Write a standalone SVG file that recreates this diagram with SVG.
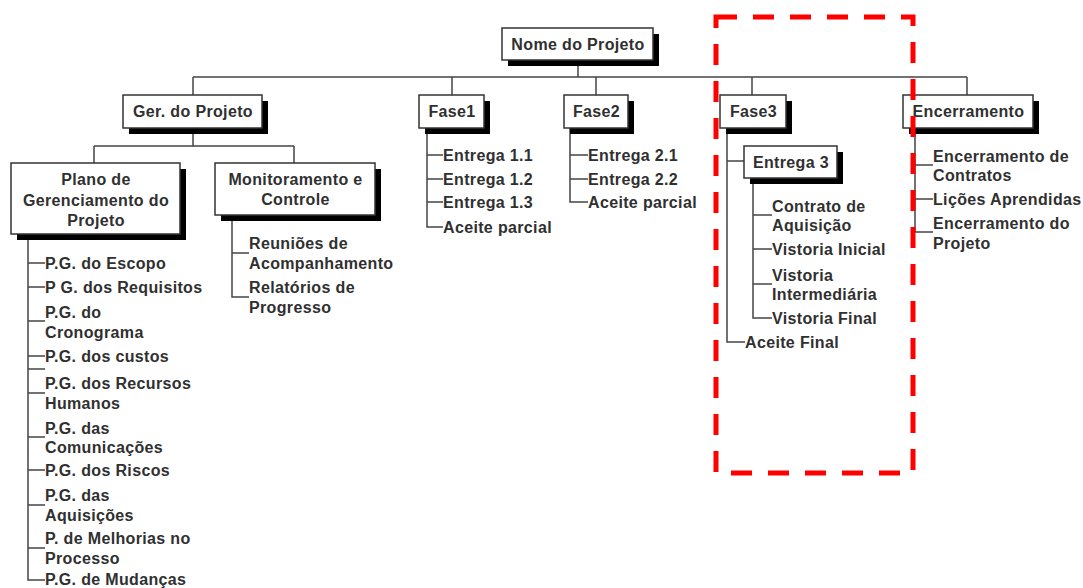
<svg xmlns="http://www.w3.org/2000/svg" width="1083" height="588" viewBox="0 0 1083 588">
<style>
.sh{fill:#000}
.bx{fill:#fff;stroke:#333;stroke-width:1.5}
.t{font-family:"Liberation Sans",Arial,sans-serif;font-size:16px;font-weight:bold;fill:#303030;letter-spacing:0.35px}
.c{text-anchor:middle}
.ln{fill:none;stroke:#444;stroke-width:1.5}
</style>
<rect width="1083" height="588" fill="#fff"/>
<g id="connectors" class="ln">
<path d="M578 60V77M193 77H967M193 77V95M452 77V95M596 77V95M752 77V95M967 77V95"/>
<path d="M193 128V146M94 146H294M94 146V163M294 146V163"/>
<path d="M28 234V580H45M28 263H45M28 287H45M28 321H45M28 356H45M28 369H45M28 393H45M28 437H45M28 470H45M28 505H45M28 548H45"/>
<path d="M232 215V297H249M232 253H249"/>
<path d="M427 128V227H443M427 155H443M427 179H443M427 202H443"/>
<path d="M570 128V202H588M570 155H588M570 179H588"/>
<path d="M727 128V342H745M727 161H744"/>
<path d="M753 178V318H772M753 215H772M753 249H772M753 284H772"/>
<path d="M915 128V232H933M915 165H933M915 199H933"/>
</g>
<g id="n-nome"><rect class="sh" x="508" y="34" width="151" height="32"/><rect class="bx" x="502" y="28" width="151" height="32"/><text class="t c" x="578" y="50">Nome do Projeto</text></g>
<g id="n-ger"><rect class="sh" x="129" y="101" width="139" height="33"/><rect class="bx" x="123" y="95" width="139" height="33"/><text class="t c" x="193" y="117">Ger. do Projeto</text></g>
<g id="n-fase1"><rect class="sh" x="425" y="101" width="65" height="33"/><rect class="bx" x="419" y="95" width="65" height="33"/><text class="t c" x="452" y="117">Fase1</text></g>
<g id="n-fase2"><rect class="sh" x="570" y="101" width="64" height="33"/><rect class="bx" x="564" y="95" width="64" height="33"/><text class="t c" x="596.5" y="117">Fase2</text></g>
<g id="n-fase3"><rect class="sh" x="726" y="101" width="66" height="33"/><rect class="bx" x="720" y="95" width="66" height="33"/><text class="t c" x="753.5" y="117">Fase3</text></g>
<g id="n-encerramento"><rect class="sh" x="909" y="101" width="130" height="33"/><rect class="bx" x="903" y="95" width="130" height="33"/><text class="t c" x="968.5" y="117">Encerramento</text></g>
<g id="n-plano"><rect class="sh" x="17" y="169" width="169" height="71"/><rect class="bx" x="11" y="163" width="169" height="71"/><text class="t c" x="96" y="185">Plano de</text><text class="t c" x="96" y="206">Gerenciamento do</text><text class="t c" x="96" y="226">Projeto</text></g>
<g id="n-monit"><rect class="sh" x="221" y="169" width="160" height="52"/><rect class="bx" x="215" y="163" width="160" height="52"/><text class="t c" x="295.5" y="185">Monitoramento e</text><text class="t c" x="295.5" y="205">Controle</text></g>
<g id="n-entrega3"><rect class="sh" x="750" y="152" width="93" height="32"/><rect class="bx" x="744" y="146" width="93" height="32"/><text class="t c" x="791" y="168">Entrega 3</text></g>
<g id="l-plano" class="t">
<text x="45" y="269">P.G. do Escopo</text>
<text x="45" y="293">P G. dos Requisitos</text>
<text x="45" y="318">P.G. do</text><text x="45" y="338">Cronograma</text>
<text x="45" y="362">P.G. dos custos</text>
<text x="45" y="389">P.G. dos Recursos</text><text x="45" y="409">Humanos</text>
<text x="45" y="434">P.G. das</text><text x="45" y="453">Comunicações</text>
<text x="45" y="476">P.G. dos Riscos</text>
<text x="45" y="501">P.G. das</text><text x="45" y="521">Aquisições</text>
<text x="45" y="544">P. de Melhorias no</text><text x="45" y="564">Processo</text>
<text x="45" y="585">P.G. de Mudanças</text>
</g>
<g id="l-monit" class="t">
<text x="249" y="249">Reuniões de</text><text x="249" y="269">Acompanhamento</text>
<text x="249" y="293">Relatórios de</text><text x="249" y="313">Progresso</text>
</g>
<g id="l-fase1" class="t">
<text x="443" y="161">Entrega 1.1</text><text x="443" y="185">Entrega 1.2</text><text x="443" y="208">Entrega 1.3</text><text x="443" y="233">Aceite parcial</text>
</g>
<g id="l-fase2" class="t">
<text x="588" y="161">Entrega 2.1</text><text x="588" y="185">Entrega 2.2</text><text x="588" y="208">Aceite parcial</text>
</g>
<g id="l-entrega3" class="t">
<text x="772" y="212">Contrato de</text><text x="772" y="231">Aquisição</text>
<text x="772" y="255">Vistoria Inicial</text>
<text x="772" y="281">Vistoria</text><text x="772" y="300">Intermediária</text>
<text x="772" y="324">Vistoria Final</text>
<text x="745" y="348">Aceite Final</text>
</g>
<g id="l-encerramento" class="t">
<text x="933" y="162">Encerramento de</text><text x="933" y="181">Contratos</text>
<text x="933" y="205">Lições Aprendidas</text>
<text x="933" y="229">Encerramento do</text><text x="933" y="249">Projeto</text>
</g>
<rect id="highlight" x="716" y="17" width="197" height="456" fill="none" stroke="#f00" stroke-width="5" stroke-dasharray="21 16"/>
</svg>
